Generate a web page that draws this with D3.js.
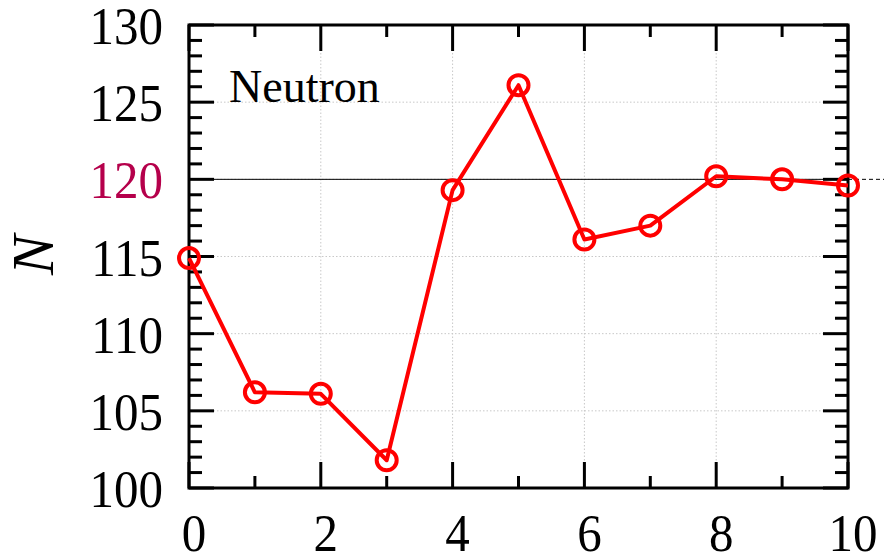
<!DOCTYPE html>
<html>
<head>
<meta charset="utf-8">
<script src="https://cdn.jsdelivr.net/npm/d3@7"></script>
<style>
  html, body { margin: 0; padding: 0; background: #fff; }
  svg { display: block; }
</style>
</head>
<body>
<svg id="chart" width="884" height="557"></svg>
<script>
// Neutron number N along the chain index
const xValues = [0, 1, 2, 3, 4, 5, 6, 7, 8, 9, 10];
const nValues = [114.9, 106.2, 106.1, 101.8, 119.3, 126.1, 116.1, 117.0, 120.2, 120.0, 119.6];
const xTickLabels = [0, 2, 4, 6, 8, 10];
const yTickLabels = [100, 105, 110, 115, 120, 125, 130];
const referenceN = 120;
const panelLabel = "Neutron";
const yAxisTitle = "N";

const svg = d3.select("#chart");
const plotLeft = 189, plotRight = 848, plotTop = 25, plotBottom = 488;
const serif = "'Liberation Serif', 'Times New Roman', serif";

const x = d3.scaleLinear().domain([0, 10]).range([plotLeft, plotRight]);
const y = d3.scaleLinear().domain([100, 130]).range([plotBottom, plotTop]);

// dotted grid at major ticks
const grid = svg.append("g");
xTickLabels.forEach(v => {
  grid.append("line").attr("x1", x(v)).attr("x2", x(v)).attr("y1", plotTop).attr("y2", plotBottom)
    .attr("stroke", "#c8c8c8").attr("stroke-width", 1).attr("stroke-dasharray", "1.5,2");
});
yTickLabels.forEach(v => {
  grid.append("line").attr("x1", plotLeft).attr("x2", plotRight).attr("y1", y(v)).attr("y2", y(v))
    .attr("stroke", "#c8c8c8").attr("stroke-width", 1).attr("stroke-dasharray", "1.5,2");
});

// reference line at N = 120
svg.append("line").attr("x1", plotLeft).attr("x2", plotRight).attr("y1", y(referenceN)).attr("y2", y(referenceN))
  .attr("stroke", "#000").attr("stroke-width", 1);
svg.append("line").attr("x1", plotRight).attr("x2", 884).attr("y1", y(referenceN)).attr("y2", y(referenceN))
  .attr("stroke", "#000").attr("stroke-width", 1).attr("stroke-dasharray", "4,3");

// ticks (major and minor) on all four sides
const ticks = svg.append("g").attr("stroke", "#000").attr("stroke-width", 3);
d3.range(0, 11, 1).forEach(v => {
  const major = v % 2 === 0;
  const len = major ? 26 : 12;
  ticks.append("line").attr("x1", x(v)).attr("x2", x(v)).attr("y1", plotBottom).attr("y2", plotBottom - len);
  ticks.append("line").attr("x1", x(v)).attr("x2", x(v)).attr("y1", plotTop).attr("y2", plotTop + len);
});
d3.range(100, 131, 1).forEach(v => {
  const major = v % 5 === 0;
  const len = major ? 25 : 13;
  ticks.append("line").attr("x1", plotLeft).attr("x2", plotLeft + len).attr("y1", y(v)).attr("y2", y(v));
  ticks.append("line").attr("x1", plotRight).attr("x2", plotRight - len).attr("y1", y(v)).attr("y2", y(v));
});

// frame
svg.append("rect").attr("x", plotLeft).attr("y", plotTop)
  .attr("width", plotRight - plotLeft).attr("height", plotBottom - plotTop)
  .attr("fill", "none").attr("stroke", "#000").attr("stroke-width", 3);

// tick labels (slightly tall serif digits)
svg.append("g").selectAll("text").data(xTickLabels).join("text")
  .attr("transform", d => `translate(${x(d) + 5},551) scale(1,1.08)`)
  .attr("text-anchor", "middle")
  .attr("font-family", serif).attr("font-size", 49).attr("fill", "#000")
  .text(d => d);
svg.append("g").selectAll("text").data(yTickLabels).join("text")
  .attr("transform", d => `translate(163,${y(d) + 19}) scale(1,1.08)`)
  .attr("text-anchor", "end")
  .attr("font-family", serif).attr("font-size", 49)
  .attr("fill", d => d === referenceN ? "#b5004b" : "#000")
  .text(d => d);

// axis title
svg.append("text")
  .attr("transform", "translate(53,255) rotate(-90)")
  .attr("text-anchor", "middle")
  .attr("font-family", serif).attr("font-style", "italic").attr("font-size", 60)
  .attr("fill", "#000")
  .text(yAxisTitle);

// panel label
svg.append("text").attr("x", 229).attr("y", 102)
  .attr("font-family", serif).attr("font-size", 46).attr("fill", "#000")
  .text(panelLabel);

// data line and markers
const line = d3.line().x((d, i) => x(xValues[i])).y(d => y(d));
svg.append("path").datum(nValues).attr("d", line)
  .attr("fill", "none").attr("stroke", "#f00").attr("stroke-width", 4).attr("stroke-linejoin", "round");
svg.append("g").selectAll("circle").data(nValues).join("circle")
  .attr("cx", (d, i) => x(xValues[i])).attr("cy", d => y(d)).attr("r", 10)
  .attr("fill", "none").attr("stroke", "#f00").attr("stroke-width", 4);
</script>
</body>
</html>
